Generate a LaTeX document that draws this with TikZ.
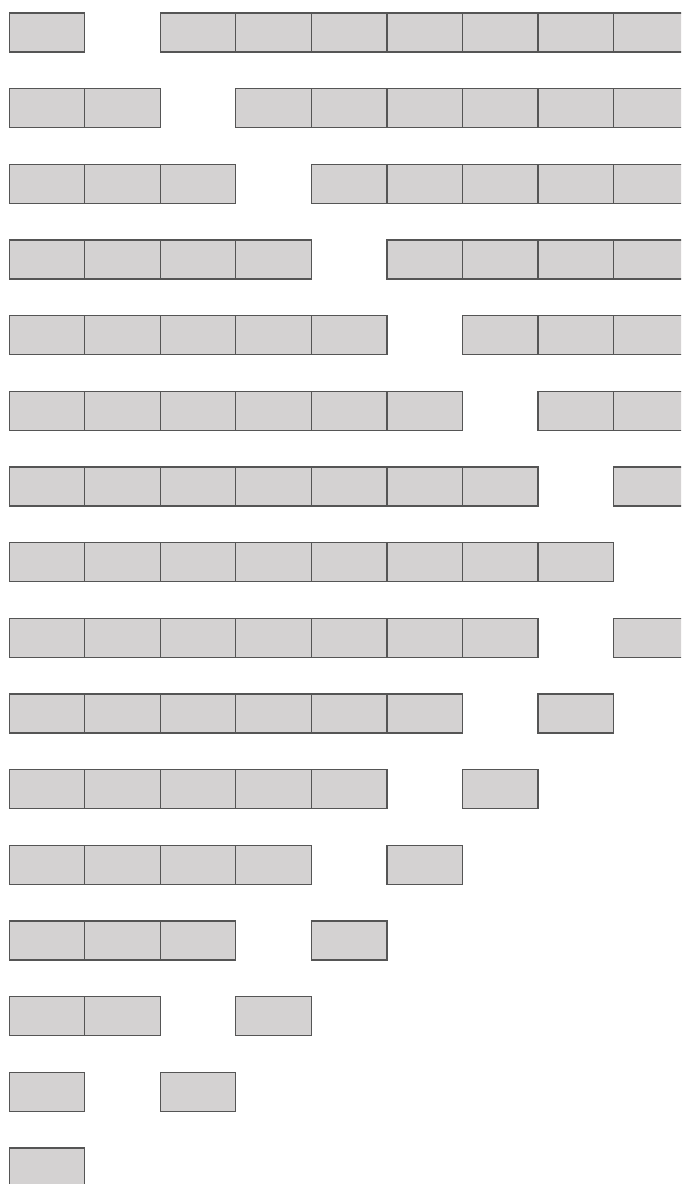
\documentclass[tikz,border=0pt]{standalone}
\definecolor{cellfill}{HTML}{D4D2D2}
\definecolor{cellline}{HTML}{555555}

\begin{document}
\begin{tikzpicture}[
        x=1pt,y=-1pt,
        cell/.style={rectangle,anchor=north west,inner sep=0pt,
          minimum width=75.55pt,minimum height=39pt,
          fill=cellfill,draw=cellline,line width=1.3pt}
      ]
        \useasboundingbox (0,0) rectangle (681,1184);
        \clip (0,0) rectangle (681,1184);
        % one row per step, the list gives the occupied columns
        \foreach \r/\cols in {0/{0,2,3,4,5,6,7,8},1/{0,1,3,4,5,6,7,8},
            2/{0,1,2,4,5,6,7,8},3/{0,1,2,3,5,6,7,8},4/{0,1,2,3,4,6,7,8},
            5/{0,1,2,3,4,5,7,8},6/{0,1,2,3,4,5,6,8},7/{0,1,2,3,4,5,6,7},
            8/{0,1,2,3,4,5,6,8},9/{0,1,2,3,4,5,7},10/{0,1,2,3,4,6},
            11/{0,1,2,3,5},12/{0,1,2,4},13/{0,1,3},14/{0,2},15/{0}}{
          \foreach \c in \cols
            \node[cell] (c\r-\c) at ({8.5+75.55*\c},{12.3+75.67*\r}) {};
        }
      \end{tikzpicture}
\end{document}
